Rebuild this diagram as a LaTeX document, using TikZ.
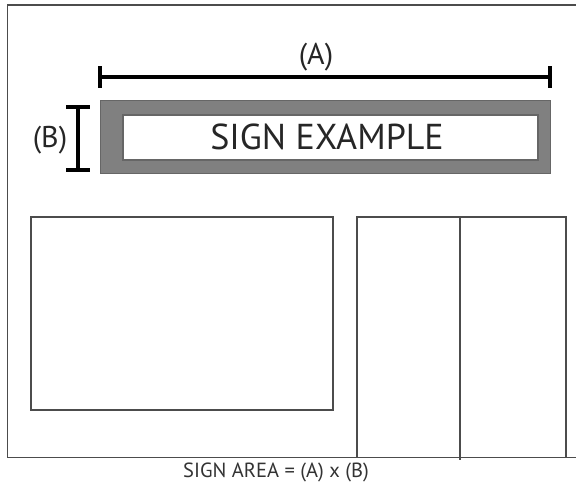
\documentclass[tikz,border=0pt]{standalone}
\usepackage{fontspec}
\setmainfont{PT Sans}
\begin{document}
\begin{tikzpicture}[x=1pt,y=-1pt,
  frame/.style={draw=black!70,line width=1.3pt},
  dimline/.style={draw=black,line width=4pt},
  lbl/.style={inner sep=0pt,text=black!85,font=\fontsize{30}{30}\selectfont},
  signtxt/.style={inner sep=0pt,text=black!85,font=\fontsize{36}{36}\selectfont},
  foot/.style={inner sep=0pt,text=black!80,font=\fontsize{20.5}{20.5}\selectfont}]
\useasboundingbox (0,0) rectangle (576,487);
\fill[white] (0,0) rectangle (576,487);
% outer frame
\coordinate (tl) at (7.5,5);
\coordinate (tr) at (577,5);
\coordinate (bl) at (7.5,457.5);
\coordinate (br) at (577,457.5);
\draw[frame] (tr) -- (tl) -- (bl) -- (br);
% dimension A
\coordinate (a1) at (100,77);
\coordinate (a2) at (550,77);
\draw[dimline] (a1) -- (a2);
\draw[dimline] ([yshift=-11pt]a1) -- ([yshift=11pt]a1);
\draw[dimline] ([yshift=-11pt]a2) -- ([yshift=11pt]a2);
\node[lbl] (A) at (316,57) {(A)};
% dimension B
\coordinate (b1) at (78,107);
\coordinate (b2) at (78,170);
\draw[dimline] (b1) -- (b2);
\draw[dimline] ([xshift=-12pt]b1) -- ([xshift=12pt]b1);
\draw[dimline] ([xshift=-12pt]b2) -- ([xshift=12pt]b2);
\node[lbl] (B) at (50,140) {(B)};
% sign
\draw[fill=black!50,draw=black!60,line width=1pt] (100.5,101) rectangle (550,173);
\draw[fill=white,draw=black!60,line width=1.2pt] (123,115) rectangle (538,160);
\node[signtxt,anchor=base] (S) at (327,149) {SIGN EXAMPLE};
% window left
\draw[frame,line width=1.2pt] (31,217) rectangle (333,410);
% door right
\draw[frame,line width=1.2pt] (357,457.5) -- (357,217) -- (566,217) -- (566,457.5);
\draw[frame,line width=1.2pt] (460,217) -- (460,460);
% footer
\node[foot,anchor=base] (F) at (276,477) {SIGN AREA = (A) x (B)};
\end{tikzpicture}
\end{document}
